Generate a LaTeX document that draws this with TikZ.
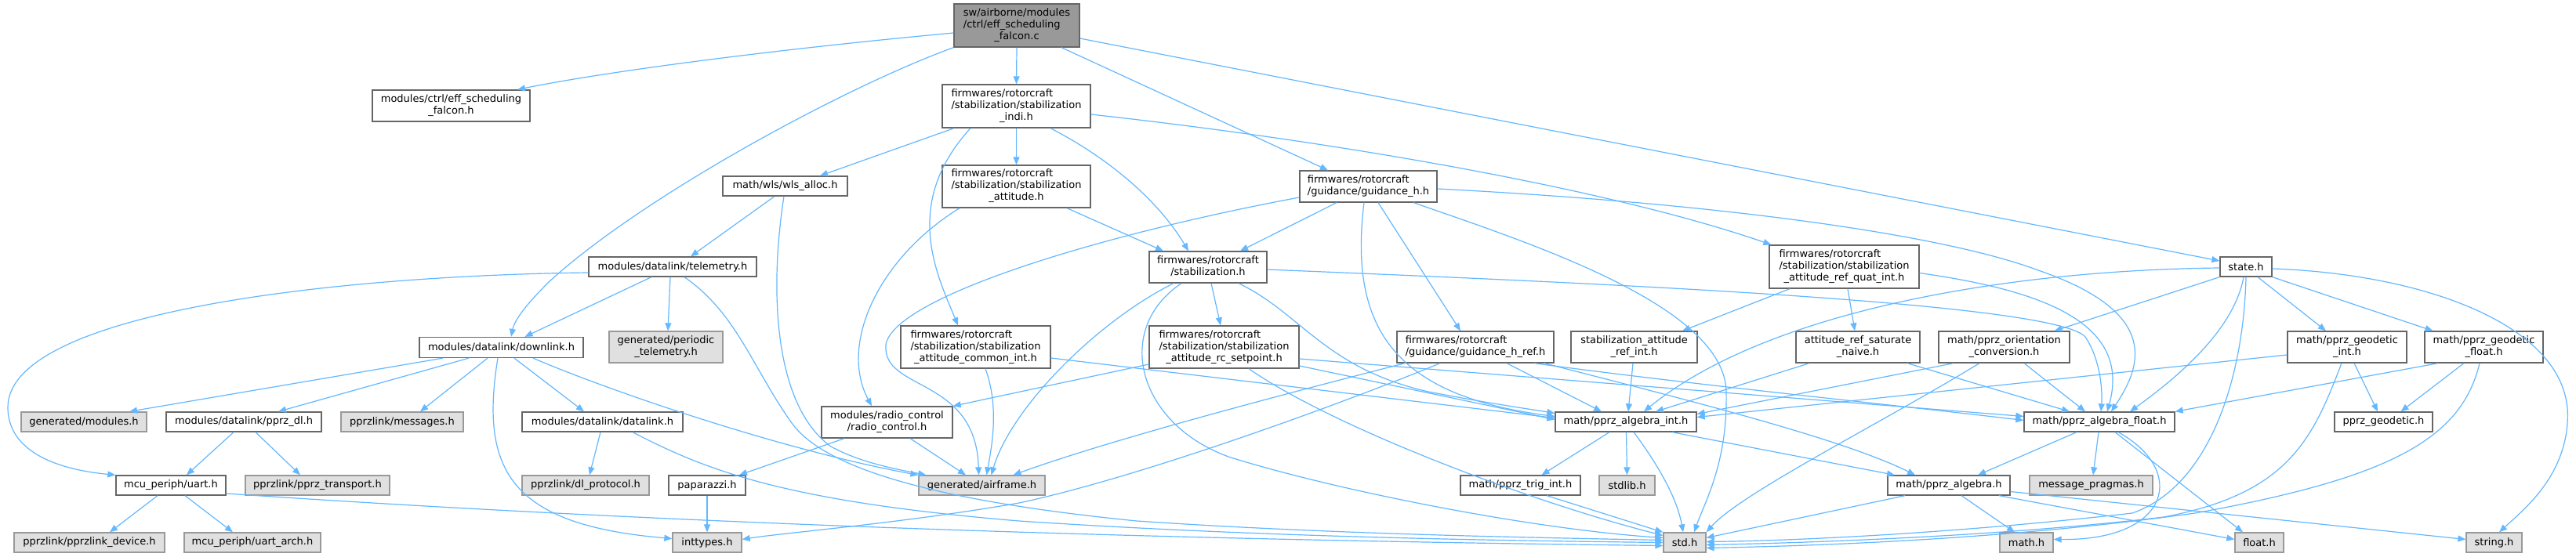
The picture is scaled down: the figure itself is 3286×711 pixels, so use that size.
\documentclass[tikz,border=0pt]{standalone}
\usepackage{fontspec}
\setmainfont{DejaVu Sans}
\usetikzlibrary{arrows.meta}
\definecolor{edgec}{HTML}{63B8FF}
\definecolor{nb}{HTML}{666666}
\definecolor{gb}{HTML}{999999}
\definecolor{gf}{HTML}{E0E0E0}
\definecolor{rf}{HTML}{999999}
\newcommand{\twoline}[2]{\begin{tabular}{@{}l@{}}#1\\\multicolumn{1}{@{}c@{}}{#2}\end{tabular}}
\begin{document}
\begin{tikzpicture}[x=1pt,y=-1pt,
  file/.style={draw=nb, fill=white, line width=1.3pt, inner sep=0pt, font=\fontsize{13}{15}\selectfont, text=black},
  sys/.style={file, draw=gb, fill=gf},
  rootf/.style={file, fill=rf},
  sz/.style 2 args={minimum width=#1pt, minimum height=#2pt},
  e/.style={draw=edgec, line width=1.2pt, -{Triangle[length=10pt,width=8pt]}, line join=round},
]
\useasboundingbox (0,0) rectangle (3286,711);
\fill[white] (0,0) rectangle (3286,711);

\node[rootf, sz={160}{55}] (root) at (1297,32.5) {\twoline{sw/airborne/modules\\/ctrl/eff\_scheduling}{\_falcon.c}};
\node[file, sz={201}{40}] (effh) at (575.5,135) {\twoline{modules/ctrl/eff\_scheduling}{\_falcon.h}};
\node[file, sz={189}{55}] (indi) at (1296.5,135.5) {\twoline{firmwares/rotorcraft\\/stabilization/stabilization}{\_indi.h}};
\node[file, sz={159}{25}] (wls) at (1001.5,237.5) {math/wls/wls\_alloc.h};
\node[file, sz={189}{54}] (satt) at (1296.5,238) {\twoline{firmwares/rotorcraft\\/stabilization/stabilization}{\_attitude.h}};
\node[file, sz={175}{40}] (guid) at (1745.5,238) {\twoline{firmwares/rotorcraft}{/guidance/guidance\_h.h}};
\node[file, sz={214}{25}] (telem) at (858,340.5) {modules/datalink/telemetry.h};
\node[file, sz={150}{40}] (stab) at (1541,341) {\twoline{firmwares/rotorcraft}{/stabilization.h}};
\node[file, sz={191}{55}] (quat) at (2352.5,340.5) {\twoline{firmwares/rotorcraft\\/stabilization/stabilization}{\_attitude\_ref\_quat\_int.h}};
\node[file, sz={66}{25}] (state) at (2865,340.5) {state.h};
\node[file, sz={209}{26}] (downlink) at (639.5,443.5) {modules/datalink/downlink.h};
\node[sys, sz={145}{40}] (periodic) at (849.5,443) {\twoline{generated/periodic}{\_telemetry.h}};
\node[file, sz={191}{54}] (cint) at (1244.5,443) {\twoline{firmwares/rotorcraft\\/stabilization/stabilization}{\_attitude\_common\_int.h}};
\node[file, sz={191}{54}] (rcsp) at (1561.5,443) {\twoline{firmwares/rotorcraft\\/stabilization/stabilization}{\_attitude\_rc\_setpoint.h}};
\node[file, sz={200}{40}] (gref) at (1882,443) {\twoline{firmwares/rotorcraft}{/guidance/guidance\_h\_ref.h}};
\node[file, sz={161}{40}] (sref) at (2084.5,443) {\twoline{stabilization\_attitude}{\_ref\_int.h}};
\node[file, sz={158}{40}] (satn) at (2370,443) {\twoline{attitude\_ref\_saturate}{\_naive.h}};
\node[file, sz={167}{40}] (orient) at (2556.5,443) {\twoline{math/pprz\_orientation}{\_conversion.h}};
\node[file, sz={152}{40}] (gint) at (2994,443) {\twoline{math/pprz\_geodetic}{\_int.h}};
\node[file, sz={151}{40}] (gflt) at (3168.5,443) {\twoline{math/pprz\_geodetic}{\_float.h}};
\node[sys, sz={160}{25}] (gmod) at (107,538.5) {generated/modules.h};
\node[file, sz={198}{25}] (ppdl) at (311,538.5) {modules/datalink/pprz\_dl.h};
\node[sys, sz={156}{25}] (msgs) at (513,538.5) {pprzlink/messages.h};
\node[file, sz={205}{25}] (dlink) at (768.5,538.5) {modules/datalink/datalink.h};
\node[file, sz={167}{40}] (rc) at (1131.5,539) {\twoline{modules/radio\_control}{/radio\_control.h}};
\node[file, sz={180}{25}] (aint) at (2074,538.5) {math/pprz\_algebra\_int.h};
\node[file, sz={192}{25}] (aflt) at (2678,538.5) {math/pprz\_algebra\_float.h};
\node[file, sz={125}{25}] (geod) at (3040.5,538.5) {pprz\_geodetic.h};
\node[file, sz={140}{25}] (uart) at (218,619.5) {mcu\_periph/uart.h};
\node[sys, sz={184}{25}] (ptrans) at (405,619.5) {pprzlink/pprz\_transport.h};
\node[sys, sz={162}{25}] (dlproto) at (747,619.5) {pprzlink/dl\_protocol.h};
\node[file, sz={98}{25}] (papa) at (902,619.5) {paparazzi.h};
\node[sys, sz={161}{25}] (airf) at (1252.5,619.5) {generated/airframe.h};
\node[file, sz={153}{25}] (trig) at (1939.5,619.5) {math/pprz\_trig\_int.h};
\node[sys, sz={71}{25}] (stdlib) at (2075.5,619.5) {stdlib.h};
\node[file, sz={156}{25}] (alg) at (2486,619.5) {math/pprz\_algebra.h};
\node[sys, sz={157}{25}] (mprag) at (2667.5,619.5) {message\_pragmas.h};
\node[sys, sz={192}{25}] (pdev) at (114,692.5) {pprzlink/pprzlink\_device.h};
\node[sys, sz={174}{25}] (uarch) at (322,692.5) {mcu\_periph/uart\_arch.h};
\node[sys, sz={88}{25}] (intt) at (902,692.5) {inttypes.h};
\node[sys, sz={54}{25}] (std) at (2149,692.5) {std.h};
\node[sys, sz={68}{25}] (math) at (2585,692.5) {math.h};
\node[sys, sz={62}{25}] (float) at (2882,692.5) {float.h};
\node[sys, sz={71}{25}] (string) at (3181.5,692.5) {string.h};

% root
\draw[e] ([yshift=-9.5pt]root.west) .. controls (1000,62) and (780,90) .. ([xshift=84.5pt]effh.north);
\draw[e] (root.south west) .. controls (1080,110) and (820,250) .. (700,360) .. controls (668,392) and (656,410) .. ([xshift=12.5pt]downlink.north);
\draw[e] (root.south) -- (indi.north);
\draw[e] ([xshift=57pt]root.south) -- ([xshift=-51.5pt]guid.north);
\draw[e] ([yshift=-16.5pt]root.east) -- ([yshift=7.5pt]state.west);
% indi
\draw[e] ([xshift=-79.5pt]indi.south) -- ([xshift=44.5pt]wls.north);
\draw[e] (indi.south) -- (satt.north);
\draw[e] ([xshift=43.5pt]indi.south) .. controls (1420,205) and (1480,260) .. ([xshift=-25pt]stab.north);
\draw[e] ([xshift=-58.5pt]indi.south) .. controls (1150,260) and (1195,350) .. ([xshift=-22.5pt]cint.north);
\draw[e] ([yshift=-10.5pt]indi.east) .. controls (1700,180) and (2050,240) .. ([xshift=3pt]quat.north west);
% stabilization_attitude
\draw[e] ([xshift=-72.5pt]satt.south) .. controls (1120,330) and (1070,440) .. ([xshift=-19.5pt]rc.north);
\draw[e] ([xshift=64.5pt]satt.south) -- ([xshift=-57pt]stab.north);
% guidance_h
\draw[e] ([xshift=-40.5pt]guid.south) -- ([xshift=41pt]stab.north);
\draw[e] ([yshift=-14pt]guid.west) .. controls (1400,300) and (1140,380) .. (1130,440) .. controls (1125,500) and (1245,480) .. ([xshift=-4pt]airf.north);
\draw[e] ([xshift=-5.5pt]guid.south) .. controls (1720,420) and (1780,505) .. ([yshift=7pt]aint.west);
\draw[e] ([xshift=12.5pt]guid.south) -- ([xshift=-19pt]gref.north);
\draw[e] ([xshift=57.5pt]guid.south) .. controls (1950,310) and (2200,390) .. (2202,500) .. controls (2204,590) and (2175,640) .. ([xshift=12pt]std.north);
\draw[e] ([yshift=-3pt]guid.east) .. controls (2200,260) and (2480,300) .. (2600,345) .. controls (2760,400) and (2730,470) .. ([xshift=15pt]aflt.north);
% wls
\draw[e] ([xshift=-13.5pt]wls.south) -- ([xshift=23pt]telem.north);
\draw[e] ([xshift=-1.5pt]wls.south) .. controls (980,380) and (990,520) .. (1060,570) .. controls (1100,592) and (1150,600) .. ([xshift=10pt]airf.north west);
% telemetry
\draw[e] ([xshift=-27pt]telem.south) -- ([xshift=30pt]downlink.north);
\draw[e] ([xshift=-3pt]telem.south) -- ([xshift=2.5pt]periodic.north);
\draw[e] ([yshift=-7.5pt]telem.west) .. controls (420,352) and (10,400) .. (10,520) .. controls (10,570) and (60,598) .. (uart.north west);
\draw[e] ([xshift=15pt]telem.south) .. controls (940,400) and (960,470) .. (1010,540) .. controls (1060,610) and (1250,645) .. (1450,665) .. controls (1700,682) and (1950,686) .. ([yshift=3pt]std.west);
% downlink
\draw[e] ([xshift=-74.5pt]downlink.south) -- ([xshift=58pt]gmod.north);
\draw[e] ([xshift=-41.5pt]downlink.south) -- ([xshift=44pt]ppdl.north);
\draw[e] ([xshift=-17.5pt]downlink.south) -- ([xshift=23pt]msgs.north);
\draw[e] ([xshift=16.5pt]downlink.south) -- ([xshift=-23.5pt]dlink.north);
\draw[e] ([xshift=-4.5pt]downlink.south) .. controls (612,600) and (650,670) .. ([yshift=5pt]intt.west);
\draw[e] ([xshift=40.5pt]downlink.south) .. controls (780,500) and (1000,575) .. (airf.north west);
% pprz_dl, datalink, uart
\draw[e] ([xshift=-13pt]ppdl.south) -- ([xshift=20pt]uart.north);
\draw[e] ([xshift=15pt]ppdl.south) -- ([xshift=-22pt]ptrans.north);
\draw[e] ([xshift=-2.5pt]dlink.south) -- ([xshift=5pt]dlproto.north);
\draw[e] ([xshift=38.5pt]dlink.south) .. controls (900,600) and (1000,640) .. (1300,665) .. controls (1600,685) and (1900,690) .. (std.west);
\draw[e] ([xshift=-17pt]uart.south) -- ([xshift=26pt]pdev.north);
\draw[e] ([xshift=18pt]uart.south) -- ([xshift=-25pt]uarch.north);
\draw[e] ([yshift=-10.5pt]uart.east) .. controls (800,665) and (1400,688) .. ([yshift=-4pt]std.west);
% radio_control, paparazzi
\draw[e] ([xshift=-54.5pt]rc.south) -- ([xshift=41pt]papa.north);
\draw[e] ([xshift=29.5pt]rc.south) -- ([xshift=-20.5pt]airf.north);
\draw[e] (papa.south) -- (intt.north);
% common_int
\draw[e] ([xshift=12.5pt]cint.south) .. controls (1275,520) and (1265,570) .. ([xshift=6pt]airf.north);
\draw[e] ([yshift=-14pt]cint.east) -- ([yshift=5pt]aint.west);
% rc_setpoint
\draw[e] ([yshift=-22pt]rcsp.west) -- (rc.north east);
\draw[e] ([yshift=-24pt]rcsp.east) -- ([yshift=3pt]aint.west);
\draw[e] ([yshift=-15pt]rcsp.east) -- ([yshift=7pt]aflt.west);
\draw[e] ([xshift=31.5pt]rcsp.south) .. controls (1700,545) and (1950,640) .. ([yshift=9pt]std.west);
% guidance_h_ref
\draw[e] ([xshift=-90pt]gref.south) .. controls (1650,500) and (1420,560) .. ([xshift=40pt]airf.north);
\draw[e] ([xshift=-45pt]gref.south) .. controls (1700,520) and (1450,610) .. (1300,642) .. controls (1150,668) and (1000,680) .. ([yshift=4pt]intt.east);
\draw[e] ([xshift=40pt]gref.south) -- ([xshift=-31pt]aint.north);
\draw[e] ([xshift=75pt]gref.south) .. controls (2150,490) and (2400,515) .. ([yshift=2pt]aflt.west);
\draw[e] ([xshift=88pt]gref.south) .. controls (2150,510) and (2350,560) .. ([xshift=-43pt]alg.north);
% stabilization
\draw[e] ([xshift=-44pt]stab.south) .. controls (1400,410) and (1290,520) .. ([xshift=12pt]airf.north);
\draw[e] ([xshift=-34pt]stab.south) .. controls (1420,420) and (1450,540) .. (1567,583) .. controls (1700,625) and (1950,675) .. ([yshift=6pt]std.west);
\draw[e] ([xshift=4pt]stab.south) -- ([xshift=-4.5pt]rcsp.north);
\draw[e] ([xshift=39pt]stab.south) .. controls (1660,400) and (1690,470) .. (1822,500) .. controls (1900,515) and (1950,522) .. ([yshift=11pt]aint.west);
\draw[e] ([yshift=-3pt]stab.east) .. controls (2000,360) and (2620,385) .. (2660,430) .. controls (2680,460) and (2682,500) .. ([xshift=2pt]aflt.north);
% ref_quat_int
\draw[e] ([xshift=-69.5pt]quat.south) -- ([xshift=61.5pt]sref.north);
\draw[e] ([xshift=4.5pt]quat.south) -- ([xshift=-4pt]satn.north);
\draw[e] ([yshift=-8pt]quat.east) .. controls (2600,370) and (2720,410) .. ([xshift=10pt]aflt.north);
% ref_int, saturate, orientation
\draw[e] ([xshift=-1.5pt]sref.south) -- ([xshift=3pt]aint.north);
\draw[e] ([xshift=-62pt]satn.south) -- ([xshift=38pt]aint.north);
\draw[e] ([xshift=63pt]satn.south) -- ([xshift=-38pt]aflt.north);
\draw[e] ([xshift=-64.5pt]orient.south) -- ([yshift=10pt]aint.east);
\draw[e] ([xshift=-31.5pt]orient.south) .. controls (2400,540) and (2220,630) .. (std.north east);
\draw[e] ([xshift=25.5pt]orient.south) -- ([xshift=-18pt]aflt.north);
% state
\draw[e] (state.south west) -- ([xshift=-20pt]orient.north east);
\draw[e] ([yshift=-1.5pt]state.west) .. controls (2550,345) and (2250,400) .. ([xshift=23pt]aint.north);
\draw[e] ([xshift=-3pt]state.south) .. controls (2850,420) and (2780,480) .. ([xshift=39pt]aflt.north);
\draw[e] (state.south) .. controls (2862,480) and (2820,620) .. (2720,655) .. controls (2500,680) and (2300,690) .. ([yshift=1pt]std.east);
\draw[e] ([xshift=15pt]state.south) -- ([xshift=-27pt]gint.north);
\draw[e] (state.south east) -- ([xshift=-65pt]gflt.north);
\draw[e] ([yshift=-2.5pt]state.east) .. controls (3100,350) and (3285,420) .. (3275,540) .. controls (3270,610) and (3220,650) .. ([xshift=6.5pt]string.north);
% geodetic
\draw[e] ([yshift=-10pt]gint.west) -- ([yshift=6pt]aint.east);
\draw[e] ([xshift=9pt]gint.south) -- ([xshift=-7.5pt]geod.north);
\draw[e] ([xshift=-7pt]gint.south) .. controls (2950,560) and (2920,630) .. (2760,660) .. controls (2550,685) and (2300,693) .. ([yshift=-3pt]std.east);
\draw[e] ([xshift=-58.5pt]gflt.south) -- (aflt.north east);
\draw[e] ([xshift=-25.5pt]gflt.south) -- ([xshift=22pt]geod.north);
\draw[e] ([xshift=-5.5pt]gflt.south) .. controls (3140,560) and (3050,610) .. (2800,655) .. controls (2550,690) and (2300,697) .. ([yshift=-7pt]std.east);
% algebra_int
\draw[e] ([xshift=-21pt]aint.south) -- ([xshift=27pt]trig.north);
\draw[e] ([xshift=0.5pt]aint.south) -- (stdlib.north);
\draw[e] ([xshift=10pt]aint.south) .. controls (2120,600) and (2140,640) .. ([xshift=-2pt]std.north);
\draw[e] ([xshift=59pt]aint.south) -- ([xshift=-69pt]alg.north);
\draw[e] ([xshift=33.5pt]trig.south) -- (std.north west);
% algebra_float
\draw[e] ([xshift=-29pt]aflt.south) -- ([xshift=37pt]alg.north);
\draw[e] ([xshift=-1pt]aflt.south) -- ([xshift=2.5pt]mprag.north);
\draw[e] ([xshift=20pt]aflt.south) -- ([xshift=-21pt]float.north);
\draw[e] ([xshift=24pt]aflt.south) .. controls (2790,600) and (2770,690) .. ([yshift=4pt]math.east);
% algebra
\draw[e] ([xshift=-56pt]alg.south) -- ([yshift=6pt]std.east);
\draw[e] ([xshift=16pt]alg.south) -- ([xshift=-15pt]math.north);
\draw[e] ([xshift=64pt]alg.south) -- ([yshift=4pt]float.west);
\draw[e] ([yshift=-8pt]alg.east) -- ([yshift=4pt]string.west);
\end{tikzpicture}
\end{document}
